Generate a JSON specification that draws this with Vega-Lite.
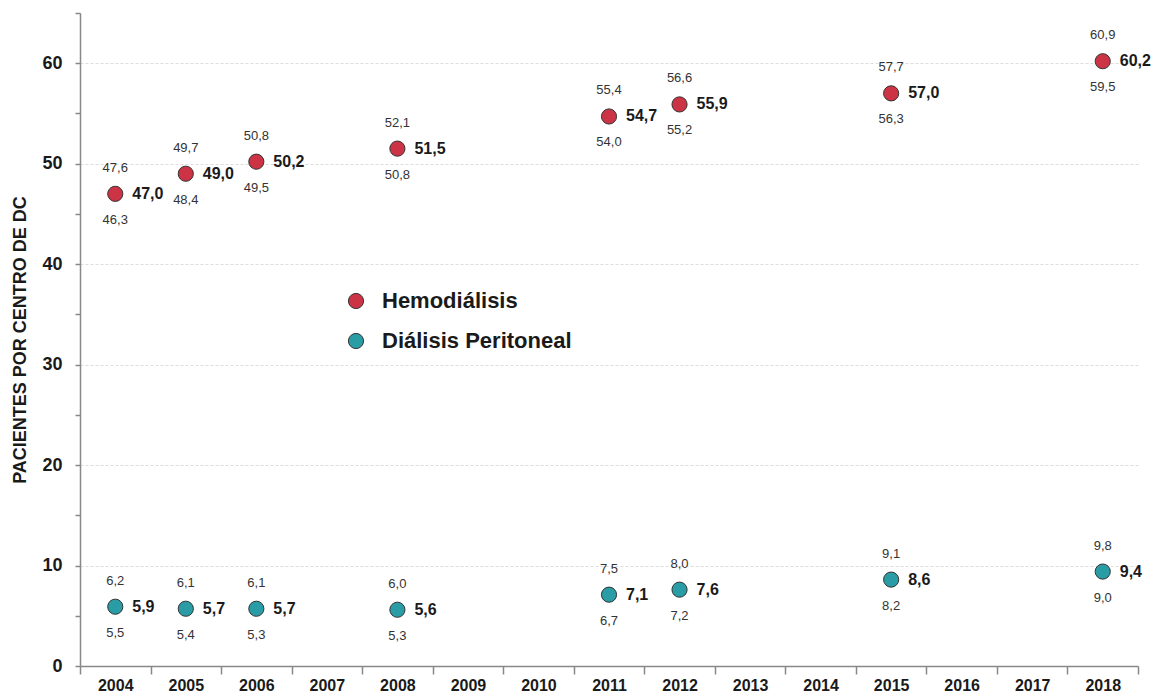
{
  "$schema": "https://vega.github.io/schema/vega-lite/v6.json",
  "width": 1058,
  "height": 653,
  "autosize": {"type": "none"},
  "padding": {"left": 80, "top": 13, "right": 15, "bottom": 29},
  "background": "white",
  "config": {
    "locale": {"number": {"decimal": ",", "thousands": ".", "grouping": [3], "currency": ["", " €"]}},
    "font": "Liberation Sans",
    "view": {"stroke": null}
  },
  "data": {
    "values": [
      {"anio": "2004", "serie": "Hemodiálisis", "valor": 47.0, "sup": 47.6, "inf": 46.3},
      {"anio": "2005", "serie": "Hemodiálisis", "valor": 49.0, "sup": 49.7, "inf": 48.4},
      {"anio": "2006", "serie": "Hemodiálisis", "valor": 50.2, "sup": 50.8, "inf": 49.5},
      {"anio": "2008", "serie": "Hemodiálisis", "valor": 51.5, "sup": 52.1, "inf": 50.8},
      {"anio": "2011", "serie": "Hemodiálisis", "valor": 54.7, "sup": 55.4, "inf": 54.0},
      {"anio": "2012", "serie": "Hemodiálisis", "valor": 55.9, "sup": 56.6, "inf": 55.2},
      {"anio": "2015", "serie": "Hemodiálisis", "valor": 57.0, "sup": 57.7, "inf": 56.3},
      {"anio": "2018", "serie": "Hemodiálisis", "valor": 60.2, "sup": 60.9, "inf": 59.5},
      {"anio": "2004", "serie": "Diálisis Peritoneal", "valor": 5.9, "sup": 6.2, "inf": 5.5},
      {"anio": "2005", "serie": "Diálisis Peritoneal", "valor": 5.7, "sup": 6.1, "inf": 5.4},
      {"anio": "2006", "serie": "Diálisis Peritoneal", "valor": 5.7, "sup": 6.1, "inf": 5.3},
      {"anio": "2008", "serie": "Diálisis Peritoneal", "valor": 5.6, "sup": 6.0, "inf": 5.3},
      {"anio": "2011", "serie": "Diálisis Peritoneal", "valor": 7.1, "sup": 7.5, "inf": 6.7},
      {"anio": "2012", "serie": "Diálisis Peritoneal", "valor": 7.6, "sup": 8.0, "inf": 7.2},
      {"anio": "2015", "serie": "Diálisis Peritoneal", "valor": 8.6, "sup": 9.1, "inf": 8.2},
      {"anio": "2018", "serie": "Diálisis Peritoneal", "valor": 9.4, "sup": 9.8, "inf": 9.0}
    ]
  },
  "encoding": {
    "x": {
      "field": "anio",
      "type": "ordinal",
      "scale": {"domain": ["2004","2005","2006","2007","2008","2009","2010","2011","2012","2013","2014","2015","2016","2017","2018"], "paddingInner": 0, "paddingOuter": 0},
      "axis": {
        "title": null,
        "labelAngle": 0,
        "labelFont": "Liberation Sans",
        "labelFontWeight": "bold",
        "labelFontSize": 16,
        "labelColor": "#1a1a1a",
        "labelPadding": 3,
        "tickBand": "extent",
        "tickSize": 8,
        "tickColor": "#888888",
        "tickWidth": 1.5,
        "domainColor": "#888888",
        "domainWidth": 1.5,
        "grid": false
      }
    },
    "y": {
      "field": "valor",
      "type": "quantitative",
      "scale": {"domain": [0, 65], "nice": false},
      "axis": {
        "title": "PACIENTES POR CENTRO DE DC",
        "titleFont": "Liberation Sans",
        "titleFontSize": 18,
        "titleFontWeight": "bold",
        "titleColor": "#1a1a1a",
        "titlePadding": 12,
        "values": [0,5,10,15,20,25,30,35,40,45,50,55,60,65],
        "labelExpr": "datum.value % 10 === 0 ? datum.label : ''",
        "labelFont": "Liberation Sans",
        "labelFontWeight": "bold",
        "labelFontSize": 18,
        "labelColor": "#1a1a1a",
        "labelPadding": 13,
        "tickSize": 5,
        "tickColor": "#888888",
        "tickWidth": 1.5,
        "domainColor": "#888888",
        "domainWidth": 1.5,
        "grid": true,
        "gridColor": "#dddddd",
        "gridDash": [3, 2],
        "gridWidth": 1,
        "gridOpacity": {"condition": {"test": "datum.value % 10 === 0 && datum.value > 0", "value": 1}, "value": 0}
      }
    }
  },
  "layer": [
    {
      "mark": {"type": "point", "filled": true, "size": 230, "stroke": "#333333", "strokeWidth": 1, "opacity": 1},
      "encoding": {
        "color": {
          "field": "serie",
          "type": "nominal",
          "scale": {"domain": ["Hemodiálisis", "Diálisis Peritoneal"], "range": ["#cc3344", "#2a9ca6"]},
          "legend": {
            "title": null,
            "orient": "none",
            "legendX": 265,
            "legendY": 277,
            "direction": "vertical",
            "symbolType": "circle",
            "symbolSize": 230,
            "symbolStrokeColor": "#333333",
            "symbolStrokeWidth": 1,
            "labelFont": "Liberation Sans",
            "labelFontSize": 22,
            "labelFontWeight": "bold",
            "labelColor": "#1a1a1a",
            "labelOffset": 15,
            "labelLimit": 0,
            "rowPadding": 18
          }
        }
      }
    },
    {
      "mark": {"type": "text", "align": "left", "baseline": "middle", "dx": 17, "fontSize": 16, "fontWeight": "bold", "color": "#1a1a1a"},
      "encoding": {"text": {"field": "valor", "type": "quantitative", "format": ".1f"}}
    },
    {
      "mark": {"type": "text", "align": "center", "baseline": "middle", "dy": -26, "fontSize": 13, "color": "#333333"},
      "encoding": {"text": {"field": "sup", "type": "quantitative", "format": ".1f"}}
    },
    {
      "mark": {"type": "text", "align": "center", "baseline": "middle", "dy": 26, "fontSize": 13, "color": "#333333"},
      "encoding": {"text": {"field": "inf", "type": "quantitative", "format": ".1f"}}
    }
  ]
}
